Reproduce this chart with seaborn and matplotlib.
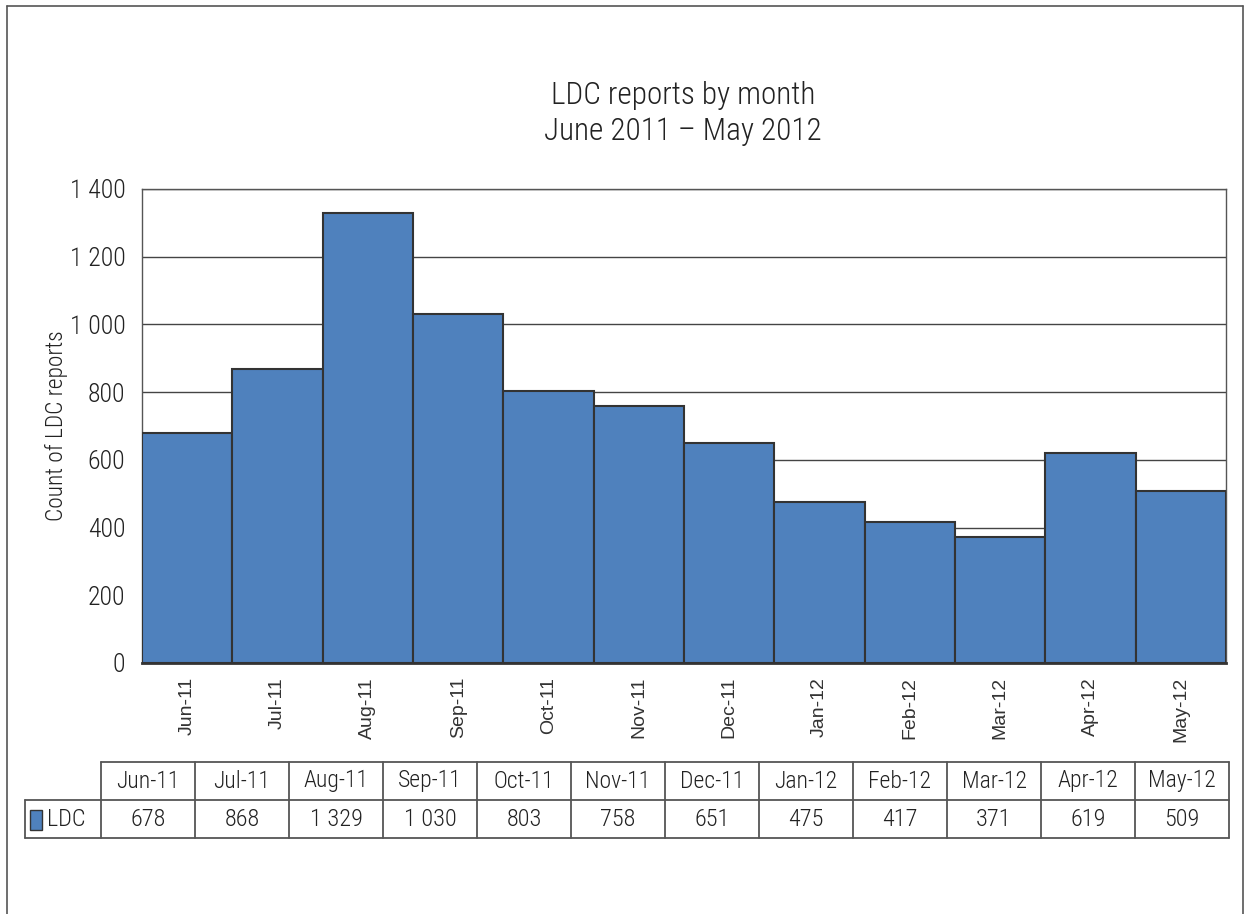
import matplotlib
matplotlib.use("Agg")
import matplotlib.pyplot as plt
from matplotlib import font_manager
import seaborn as sns
import pandas as pd
from matplotlib.patches import Rectangle
from matplotlib.lines import Line2D
from matplotlib.ticker import FuncFormatter

# ---- data ----
months = ["Jun-11", "Jul-11", "Aug-11", "Sep-11", "Oct-11", "Nov-11",
          "Dec-11", "Jan-12", "Feb-12", "Mar-12", "Apr-12", "May-12"]
counts = [678, 868, 1329, 1030, 803, 758, 651, 475, 417, 371, 619, 509]
series_name = "LDC"
title_lines = ["LDC reports by month", "June 2011 \u2013 May 2012"]
y_label = "Count of LDC reports"
y_ticks = [0, 200, 400, 600, 800, 1000, 1200, 1400]

BAR = "#4F81BD"
EDGE = "#333333"
TEXT = "#222222"
LINE = "#555555"

# Pick a condensed face if one is installed, otherwise a narrow-ish sans.
installed = {f.name for f in font_manager.fontManager.ttflist}
condensed = [f for f in font_manager.fontManager.ttflist
             if ("Narrow" in f.name or "Condensed" in f.name
                 or str(f.stretch) in ("condensed", "semi-condensed", "500", "600"))]
preferred = ["Liberation Sans Narrow", "Roboto Condensed", "Open Sans Condensed",
             "Noto Sans Condensed", "DejaVu Sans Condensed"]
narrow_name = next((n for n in preferred if n in installed), None)
narrow_props = {}
if narrow_name is None:
    dv = [f for f in condensed if f.name == "DejaVu Sans" and f.weight in (400, "normal")]
    if dv:
        narrow_name = "DejaVu Sans"
        narrow_props = {"fontstretch": "condensed"}
        scale = 0.92
    else:
        narrow_name = "Liberation Sans"
        scale = 0.90
else:
    scale = 1.0

sns.set_theme(style="white")
NARROW = [narrow_name, "DejaVu Sans"]
WIDE = ["Liberation Sans", "DejaVu Sans"]
plt.rcParams["font.family"] = NARROW
plt.rcParams["font.weight"] = 300
if narrow_props:
    plt.rcParams["font.stretch"] = "condensed"

W, H = 1246, 914
fig = plt.figure(figsize=(W / 100, H / 100), dpi=100)
fig.patch.set_facecolor("white")


def box(x0, y0, x1, y1):
    return [x0 / W, 1 - y1 / H, (x1 - x0) / W, (y1 - y0) / H]


def space_thousands(v, _pos=None):
    return f"{int(round(v)):,}".replace(",", " ")


def fs(size):
    return size * scale


# ---- bar chart ----
ax = fig.add_axes(box(142, 189, 1226, 663))
df = pd.DataFrame({"month": months, "count": counts})
sns.barplot(data=df, x="month", y="count", color=BAR, saturation=1,
            width=1.0, edgecolor=EDGE, linewidth=1.5, ax=ax, zorder=3)
ax.set_xlim(-0.5, len(months) - 0.5)
ax.set_ylim(0, 1400)
ax.set_yticks(y_ticks)
ax.yaxis.set_major_formatter(FuncFormatter(space_thousands))
ax.set_axisbelow(True)
ax.grid(axis="y", color="#444444", linewidth=1.0, zorder=0)
ax.grid(axis="x", visible=False)
ax.set_xlabel("")
ax.set_ylabel("")
for side in ("left", "top", "right"):
    ax.spines[side].set_color(LINE)
    ax.spines[side].set_linewidth(1.0)
ax.spines["bottom"].set_color(EDGE)
ax.spines["bottom"].set_linewidth(2.0)
ax.tick_params(axis="y", length=0, pad=12, labelsize=fs(18.5), labelcolor=TEXT)
ax.tick_params(axis="x", length=0, pad=10, labelsize=14, labelcolor="#333333")
for lbl in ax.get_xticklabels():
    lbl.set_rotation(90)
    lbl.set_family(WIDE)
    lbl.set_weight("normal")
    lbl.set_stretch("normal")
    lbl.set_va("top")
    lbl.set_ha("center")

# ---- titles and axis label ----
fig.text(683 / W, 1 - 95 / H, title_lines[0], ha="center", va="center",
         fontsize=fs(22.5), color=TEXT)
fig.text(683 / W, 1 - 131 / H, title_lines[1], ha="center", va="center",
         fontsize=fs(22.5), color=TEXT)
fig.text(56 / W, 1 - 426 / H, y_label, ha="center", va="center",
         rotation=90, fontsize=fs(16.8), color=TEXT)

# ---- data table and outer frame (drawn in pixel coordinates) ----
ov = fig.add_axes([0, 0, 1, 1], zorder=-1)
ov.set_xlim(0, W)
ov.set_ylim(H, 0)
ov.axis("off")

# outer frame
ov.add_line(Line2D([7, 7], [6, H], color=LINE, lw=1.2))
ov.add_line(Line2D([7, 1243], [6, 6], color=LINE, lw=1.2))
ov.add_line(Line2D([1243, 1243], [6, H], color=LINE, lw=1.2))

label_left, first_col, col_w = 25, 101, 94
row_top, row_mid, row_bot = 762, 800, 838
n = len(months)
right = first_col + n * col_w

tl = dict(color=LINE, lw=1.3)
ov.add_line(Line2D([first_col, right], [row_top, row_top], **tl))
ov.add_line(Line2D([label_left, right], [row_mid, row_mid], **tl))
ov.add_line(Line2D([label_left, right], [row_bot, row_bot], **tl))
ov.add_line(Line2D([label_left, label_left], [row_mid, row_bot], **tl))
for i in range(n + 1):
    x = first_col + i * col_w
    ov.add_line(Line2D([x, x], [row_top, row_bot], **tl))

for i, (m, c) in enumerate(zip(months, counts)):
    cx = first_col + (i + 0.5) * col_w
    ov.text(cx, (row_top + row_mid) / 2, m, ha="center", va="center",
            fontsize=fs(17), color=TEXT)
    ov.text(cx, (row_mid + row_bot) / 2, space_thousands(c), ha="center",
            va="center", fontsize=fs(17.5), color=TEXT)

ov.add_patch(Rectangle((30, 810), 12, 20, facecolor=BAR, edgecolor=EDGE, lw=1.0))
ov.text(47, (row_mid + row_bot) / 2, series_name, ha="left", va="center",
        fontsize=fs(17.5), color=TEXT)

fig.savefig("out.png", dpi=100, facecolor="white")
